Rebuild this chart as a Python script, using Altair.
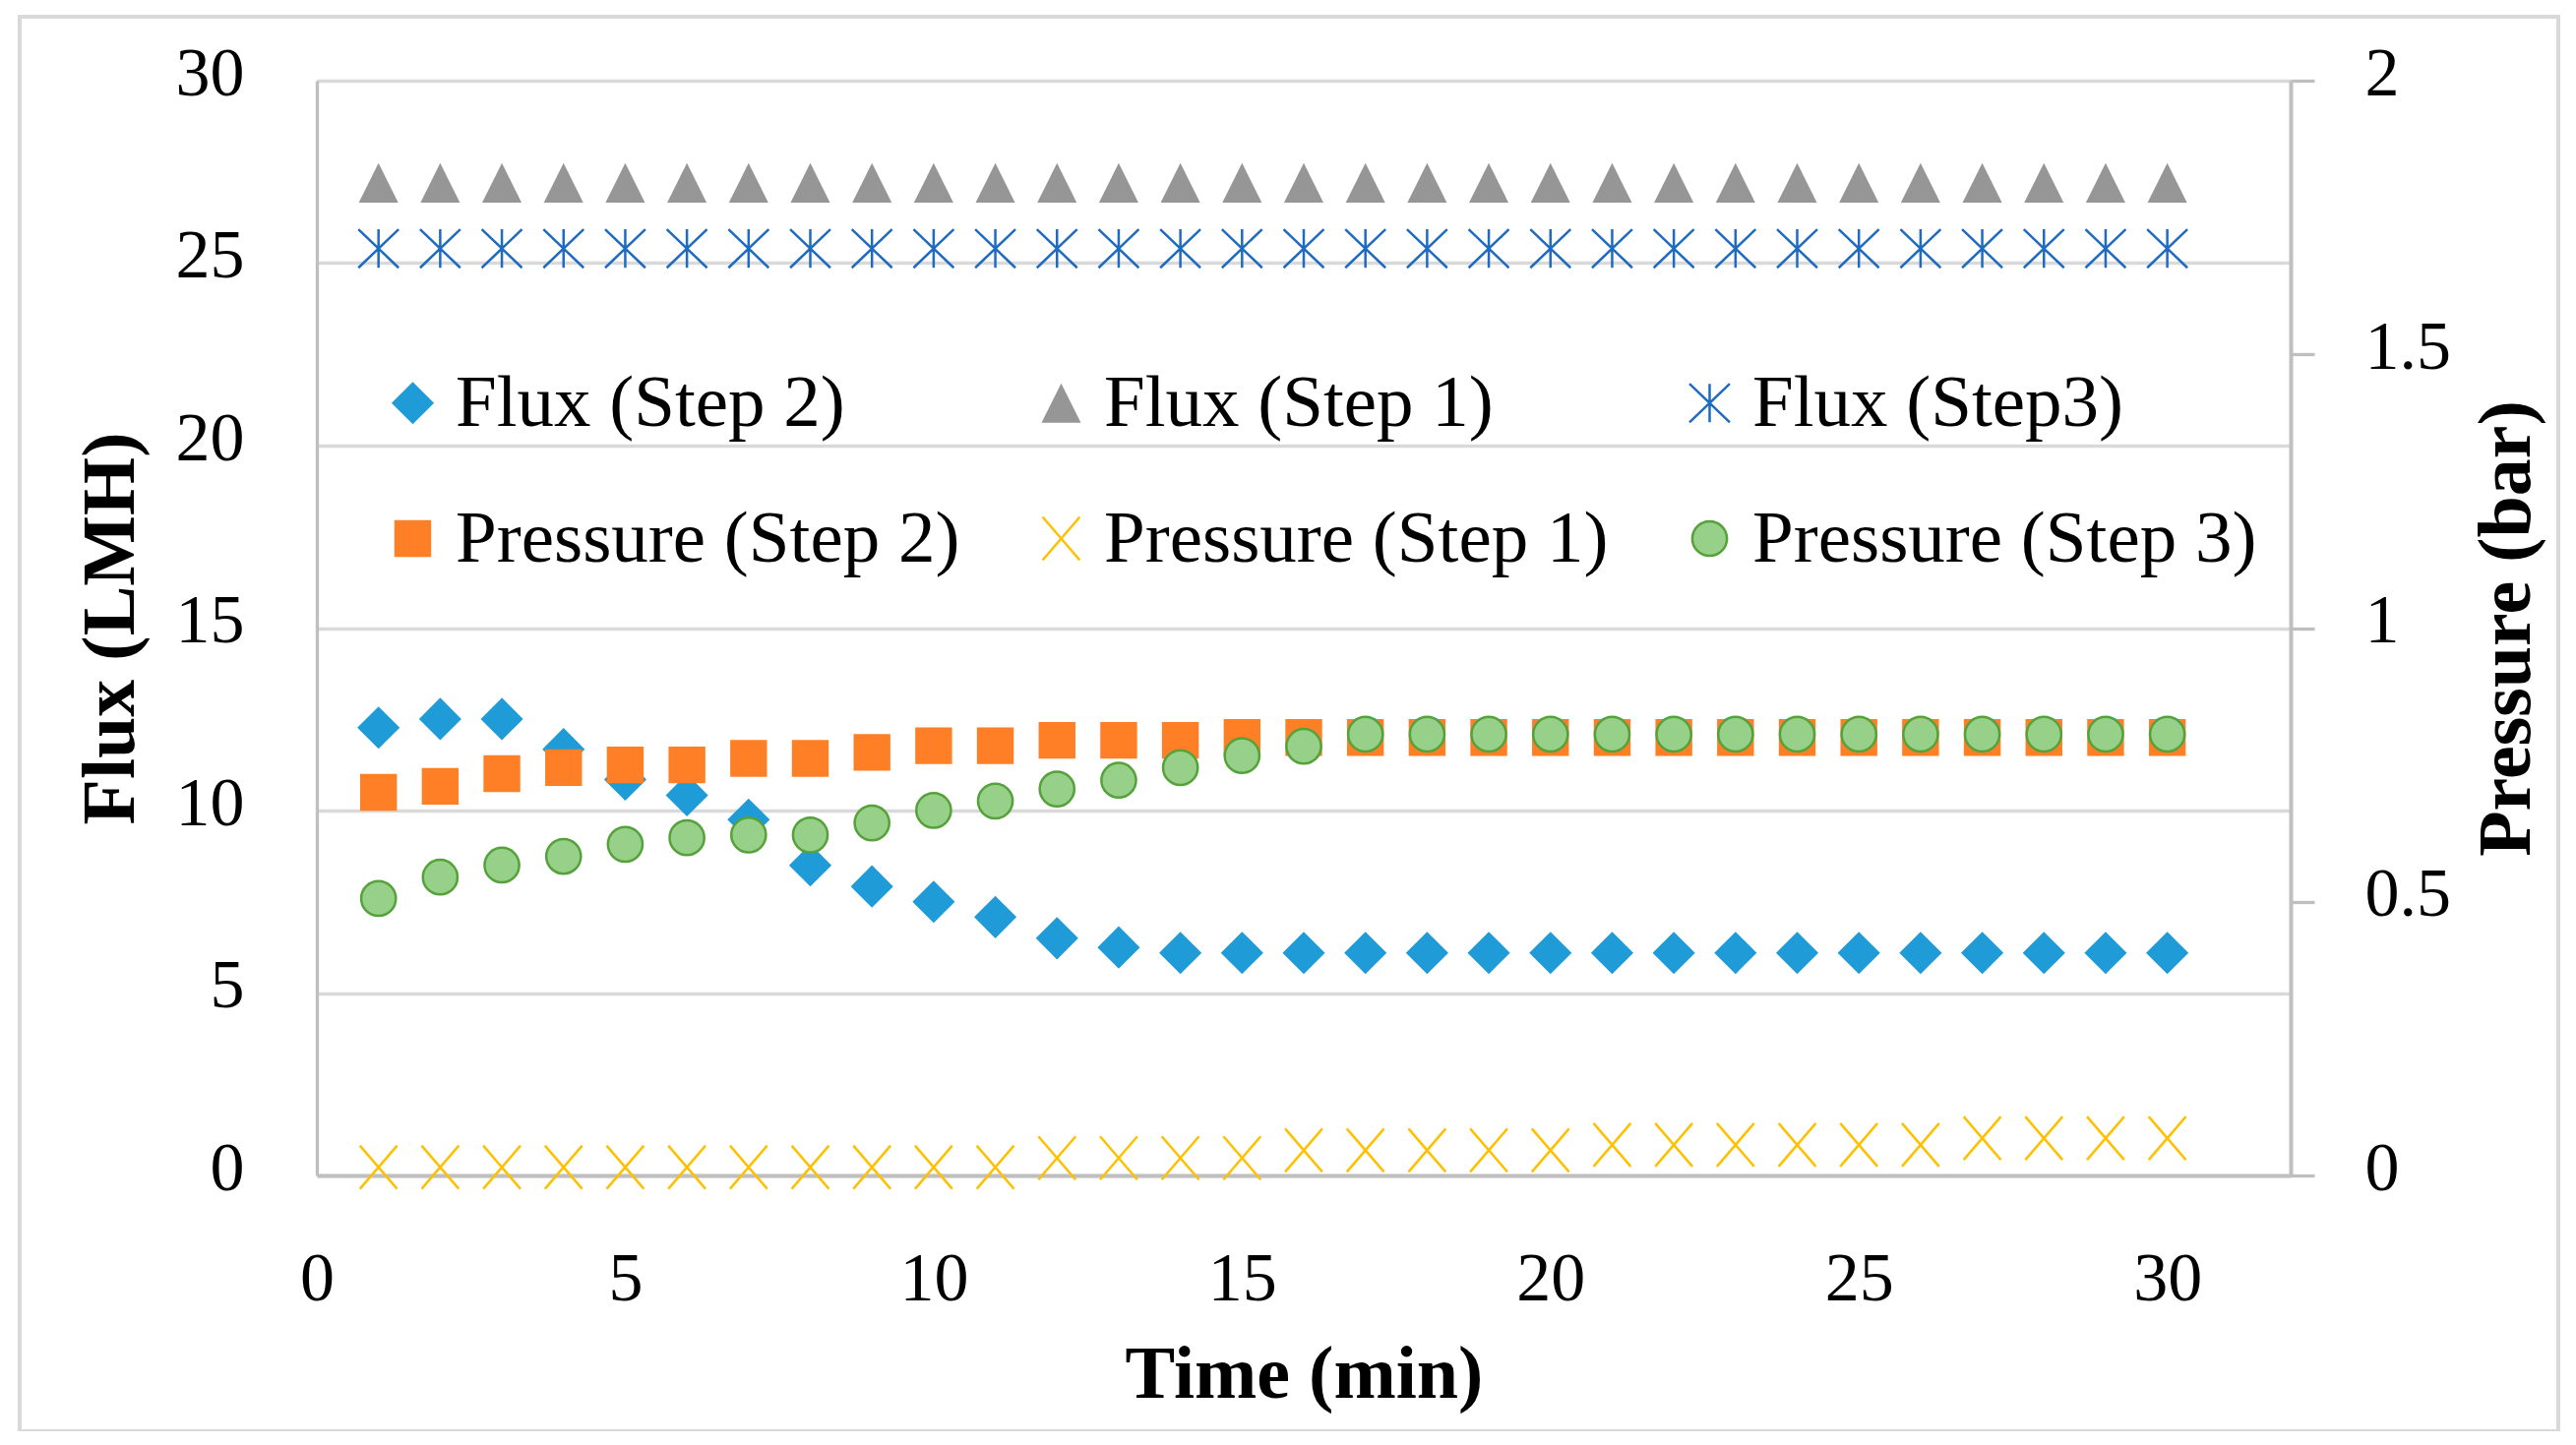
import altair as alt
import pandas as pd

FONT = "Liberation Serif"

# %% data
time_min = [1, 2, 3, 4, 5, 6, 7, 8, 9, 10, 11, 12, 13, 14, 15,
            16, 17, 18, 19, 20, 21, 22, 23, 24, 25, 26, 27, 28, 29, 30]

flux_step2 = [12.27, 12.51, 12.51, 11.68, 10.85, 10.42, 9.75, 8.50, 7.92, 7.50,
              7.08, 6.50, 6.25, 6.10, 6.10, 6.10, 6.10, 6.10, 6.10, 6.10,
              6.10, 6.10, 6.10, 6.10, 6.10, 6.10, 6.10, 6.10, 6.10, 6.10]
flux_step1 = [27.2, 27.2, 27.2, 27.2, 27.2, 27.2, 27.2, 27.2, 27.2, 27.2,
              27.2, 27.2, 27.2, 27.2, 27.2, 27.2, 27.2, 27.2, 27.2, 27.2,
              27.2, 27.2, 27.2, 27.2, 27.2, 27.2, 27.2, 27.2, 27.2, 27.2]
flux_step3 = [25.4, 25.4, 25.4, 25.4, 25.4, 25.4, 25.4, 25.4, 25.4, 25.4,
              25.4, 25.4, 25.4, 25.4, 25.4, 25.4, 25.4, 25.4, 25.4, 25.4,
              25.4, 25.4, 25.4, 25.4, 25.4, 25.4, 25.4, 25.4, 25.4, 25.4]

pressure_step2 = [0.700, 0.711, 0.734, 0.745, 0.750, 0.750, 0.762, 0.762, 0.773, 0.785,
                  0.785, 0.795, 0.795, 0.795, 0.800, 0.800, 0.800, 0.800, 0.800, 0.800,
                  0.800, 0.800, 0.800, 0.800, 0.800, 0.800, 0.800, 0.800, 0.800, 0.800]
pressure_step1 = [0.015, 0.015, 0.015, 0.015, 0.015, 0.015, 0.015, 0.015, 0.015, 0.015,
                  0.015, 0.032, 0.032, 0.032, 0.032, 0.046, 0.046, 0.046, 0.046, 0.046,
                  0.056, 0.056, 0.056, 0.056, 0.056, 0.056, 0.068, 0.068, 0.068, 0.068]
pressure_step3 = [0.506, 0.545, 0.567, 0.583, 0.605, 0.617, 0.622, 0.622, 0.644, 0.667,
                  0.684, 0.706, 0.722, 0.745, 0.767, 0.784, 0.806, 0.806, 0.806, 0.806,
                  0.806, 0.806, 0.806, 0.806, 0.806, 0.806, 0.806, 0.806, 0.806, 0.806]

series_names = ["Flux (Step 2)", "Flux (Step 1)", "Flux (Step3)",
                "Pressure (Step 2)", "Pressure (Step 1)", "Pressure (Step 3)"]
fill_colors = ["#1f9bd7", "#969696", "transparent", "#ff7f27", "transparent", "#97d089"]
stroke_colors = ["transparent", "transparent", "#1f6bc2", "transparent", "#ffc000", "#55a23a"]
shape_paths = [
    "M-0.98,0L0,-0.98L0.98,0L0,0.98Z",
    "M0,-0.91L0.91,0.91L-0.91,0.91Z",
    "M-0.93,-0.89L0.93,0.89M-0.93,0.89L0.93,-0.89M0,-0.89L0,0.89",
    "M-0.85,-0.85L0.85,-0.85L0.85,0.85L-0.85,0.85Z",
    "M-0.86,-1L0.86,1M-0.86,1L0.86,-1",
    "M0.8,0A0.8,0.8,0,1,1,-0.8,0A0.8,0.8,0,1,1,0.8,0Z",
]

x_ticks = [0, 5, 10, 15, 20, 25, 30]
flux_ticks = [0, 5, 10, 15, 20, 25, 30]
pressure_ticks = [0, 0.5, 1, 1.5, 2]

# %% long tables, drawing order = Excel series order
flux_df = pd.concat([
    pd.DataFrame({"time": time_min, "value": flux_step2, "series": series_names[0]}),
    pd.DataFrame({"time": time_min, "value": flux_step1, "series": series_names[1]}),
    pd.DataFrame({"time": time_min, "value": flux_step3, "series": series_names[2]}),
])
pressure_df = pd.concat([
    pd.DataFrame({"time": time_min, "value": pressure_step2, "series": series_names[3]}),
    pd.DataFrame({"time": time_min, "value": pressure_step1, "series": series_names[4]}),
    pd.DataFrame({"time": time_min, "value": pressure_step3, "series": series_names[5]}),
])

PLOT_W, PLOT_H = 2006, 1113

legend_def = alt.Legend(
    title=None, orient="none", legendX=60, legendY=290, columns=3, direction="horizontal",
    gridAlign="all", columnPadding=65, rowPadding=62, symbolSize=1936, symbolStrokeWidth=2.5,
    labelFont=FONT, labelFontSize=75, labelColor="black", labelLimit=1000,
    labelOffset=6, padding=0,
)

x_enc = alt.X(
    "time:Q",
    scale=alt.Scale(domain=[0, 32], nice=False),
    axis=alt.Axis(
        orient="bottom", values=x_ticks, grid=False, domainColor="#bfbfbf", domainWidth=4,
        ticks=False, tickSize=0, labelFont=FONT, labelFontSize=70, labelColor="black",
        labelPadding=105, labelBaseline="middle", labelFlush=False, title="Time (min)",
        titleFont=FONT, titleFontSize=76, titleFontWeight="bold", titleColor="black",
        titleY=225, titleBaseline="alphabetic",
    ),
)

fill_enc = alt.Fill("series:N", scale=alt.Scale(domain=series_names, range=fill_colors), legend=legend_def)
stroke_enc = alt.Stroke("series:N", scale=alt.Scale(domain=series_names, range=stroke_colors), legend=legend_def)
shape_enc = alt.Shape("series:N", scale=alt.Scale(domain=series_names, range=shape_paths), legend=legend_def)

flux = alt.Chart(flux_df).mark_point(filled=True, opacity=1, size=1936, strokeWidth=2.5).encode(
    x=x_enc,
    y=alt.Y(
        "value:Q",
        scale=alt.Scale(domain=[0, 30], nice=False),
        axis=alt.Axis(
            orient="left", values=flux_ticks, grid=True, gridColor="#d9d9d9", gridWidth=3.3,
            domainColor="#bfbfbf", domainWidth=3.3, ticks=False, tickSize=0,
            labelFont=FONT, labelFontSize=70, labelColor="black", labelPadding=74, labelOffset=-7,
            title="Flux (LMH)", titleFont=FONT, titleFontSize=76, titleFontWeight="bold",
            titleColor="black", titleAngle=270, titleX=-187, titleY=PLOT_H / 2,
            titleBaseline="alphabetic", titleAlign="center",
        ),
    ),
    fill=fill_enc, stroke=stroke_enc, shape=shape_enc,
)

pressure = alt.Chart(pressure_df).mark_point(filled=True, opacity=1, size=1936, strokeWidth=2.5).encode(
    x=x_enc,
    y=alt.Y(
        "value:Q",
        scale=alt.Scale(domain=[0, 2], nice=False),
        axis=alt.Axis(
            orient="right", values=pressure_ticks, format="~g", grid=False,
            domainColor="#bfbfbf", domainWidth=4, ticks=True, tickColor="#bfbfbf",
            tickWidth=3.3, tickSize=24, labelFont=FONT, labelFontSize=70, labelColor="black",
            labelPadding=51, labelOffset=-7, title="Pressure (bar)", titleFont=FONT,
            titleFontSize=76, titleFontWeight="bold", titleColor="black", titleAngle=270,
            titleX=242, titleY=PLOT_H / 2, titleBaseline="alphabetic", titleAlign="center",
        ),
    ),
    fill=fill_enc, stroke=stroke_enc, shape=shape_enc,
)

# light frame round the whole chart area
frame = alt.Chart(pd.DataFrame({"a": [0]})).mark_rect(
    fill="transparent", stroke="#d9d9d9", strokeWidth=4
).encode(x=alt.value(-302), x2=alt.value(2278), y=alt.value(-65), y2=alt.value(1373))

chart = alt.layer(frame, flux, pressure).resolve_scale(y="independent").properties(
    width=PLOT_W, height=PLOT_H,
    autosize=alt.AutoSizeParams(type="none"),
    padding={"left": 314, "top": 74, "right": 280, "bottom": 260},
    background="white",
).configure_view(strokeWidth=0)

chart.save("out.html", embed_options={"renderer": "svg", "actions": False})
